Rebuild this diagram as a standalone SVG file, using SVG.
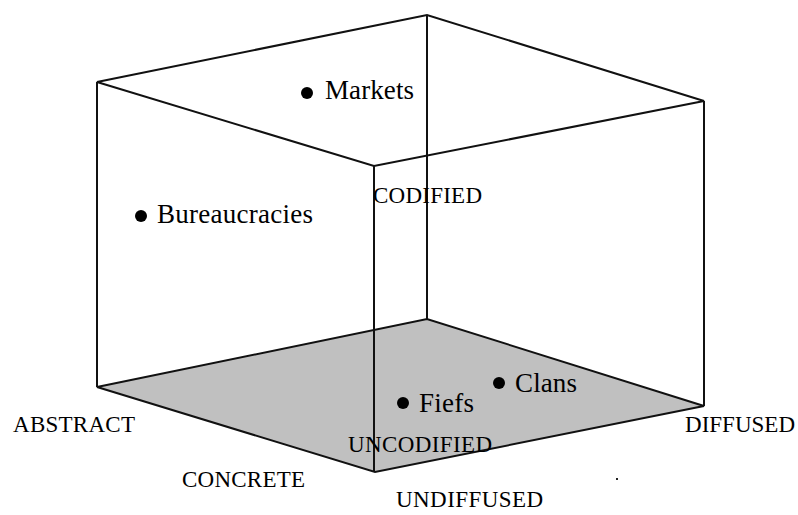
<svg xmlns="http://www.w3.org/2000/svg" width="798" height="515" viewBox="0 0 798 515">
<style>
.edge{fill:none;stroke:#111;stroke-width:2;stroke-linejoin:miter}
.face{fill:#c0c0c0;stroke:#111;stroke-width:2}
.axis{font-family:"Liberation Serif","Times New Roman",serif;font-size:23px;fill:#000}
.pt{font-family:"Liberation Serif","Times New Roman",serif;font-size:27px;fill:#000}
.dot{fill:#000}
</style>
<rect width="798" height="515" fill="#fff"/>
<g id="cube">
<polygon class="face" points="97,387 427,319 704,406 375,472"/>
<polygon class="edge" points="97,82 427,15 704,101 374,166"/>
<line class="edge" x1="97" y1="82" x2="97" y2="387"/>
<line class="edge" x1="427" y1="15" x2="427" y2="319"/>
<line class="edge" x1="704" y1="101" x2="704" y2="406"/>
<line class="edge" x1="374" y1="166" x2="374" y2="472"/>
</g>
<g id="markets"><circle class="dot" cx="307" cy="93" r="6"/><text class="pt" x="325" y="99" textLength="89">Markets</text></g>
<g id="bureaucracies"><circle class="dot" cx="141" cy="216" r="6"/><text class="pt" x="157" y="223" textLength="156">Bureaucracies</text></g>
<g id="fiefs"><circle class="dot" cx="403" cy="403" r="6"/><text class="pt" x="419" y="412" textLength="55">Fiefs</text></g>
<g id="clans"><circle class="dot" cx="499" cy="383" r="6"/><text class="pt" x="515" y="392" textLength="62">Clans</text></g>
<g id="axis-labels">
<text class="axis" x="373" y="203" textLength="109">CODIFIED</text>
<text class="axis" x="348" y="452" textLength="144">UNCODIFIED</text>
<text class="axis" x="13" y="432" textLength="122">ABSTRACT</text>
<text class="axis" x="182" y="487" textLength="123">CONCRETE</text>
<text class="axis" x="396" y="507" textLength="147">UNDIFFUSED</text>
<text class="axis" x="685" y="432" textLength="110">DIFFUSED</text>
</g>
<rect x="616" y="478" width="2" height="2" fill="#222"/>
</svg>
